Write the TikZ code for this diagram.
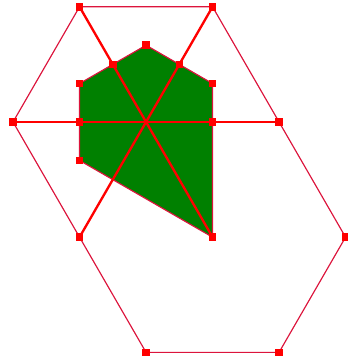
\documentclass[tikz,border=0pt]{standalone}
\usepackage{xcolor}
\usepackage{tikz}
\definecolor{crimson}{RGB}{220,20,60}
\definecolor{leafgreen}{RGB}{0,128,0}

\begin{document}
\begin{tikzpicture}[scale=2]
    \useasboundingbox (-1.098,-1.812) rectangle (1.511,0.917);
    % corners of the outer outline
    \coordinate (TL) at (-0.5,0.866);
    \coordinate (TR) at (0.5,0.866);
    \coordinate (R) at (1,0);
    \coordinate (RR) at (1.5,-0.866);
    \coordinate (BR) at (1,-1.732);
    \coordinate (BL) at (0,-1.732);
    \coordinate (LB) at (-0.5,-0.866);
    \coordinate (L) at (-1,0);
    % corners of the green piece
    \coordinate (P1) at (0,0.577);
    \coordinate (P2) at (0.25,0.433);
    \coordinate (P3) at (0.5,0.289);
    \coordinate (P4) at (0.5,0);
    \coordinate (P5) at (0.5,-0.866);
    \coordinate (P6) at (-0.5,-0.289);
    \coordinate (P7) at (-0.5,0);
    \coordinate (P8) at (-0.5,0.289);
    \coordinate (P9) at (-0.25,0.433);
    \fill[leafgreen] (P1) -- (P3) -- (P5) -- (P6) -- (P8) -- cycle;
    \draw[crimson, line width=0.5pt] (P1) -- (P3) -- (P5) -- (P6) -- (P8) -- cycle;
    \draw[crimson, line width=0.5pt] (TL) -- (TR) -- (R) -- (RR) -- (BR) -- (BL) -- (LB) -- (L) -- cycle;
    \draw[red, line width=1pt] (L) -- (R);
    \draw[red, line width=1pt] (TL) -- (P5);
    \draw[red, line width=1pt] (TR) -- (LB);
    \foreach \p in {TL,TR,R,RR,BR,BL,LB,L,P1,P2,P3,P4,P5,P6,P7,P8,P9}
        \fill[red] (\p) ++(-0.8pt,-0.8pt) rectangle ++(1.6pt,1.6pt);
\end{tikzpicture}
\end{document}
